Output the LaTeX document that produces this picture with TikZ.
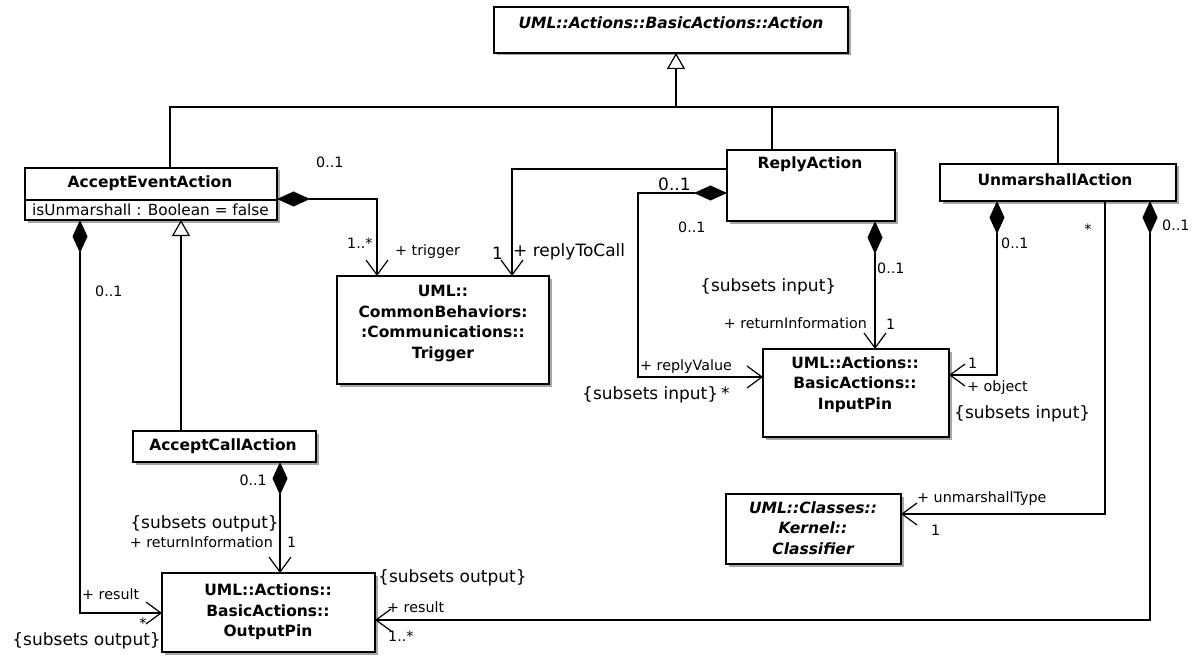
\documentclass[tikz,border=0pt]{standalone}
\usepackage{fontspec}
\setmainfont{DejaVu Sans}
\usetikzlibrary{arrows.meta,shadows}
\begin{document}
\begin{tikzpicture}[x=1pt,y=-1pt,
  box/.style={draw, line width=1.2pt, fill=white, inner sep=0pt, outer sep=0pt, anchor=north west,
    drop shadow={shadow xshift=2.5pt, shadow yshift=-2.5pt, fill=black!35, opacity=1}},
  cname/.style={font=\fontsize{15.5}{20.5}\selectfont\bfseries, align=center, inner sep=0pt},
  iname/.style={font=\fontsize{15.5}{20.5}\selectfont\bfseries\itshape, align=center, inner sep=0pt},
  attr/.style={font=\fontsize{15.3}{18}\selectfont, inner sep=0pt, anchor=west},
  sm/.style={font=\fontsize{14.3}{16}\selectfont, inner sep=0pt},
  bg/.style={font=\fontsize{17}{19}\selectfont, inner sep=0pt},
  conn/.style={line width=1.2pt},
  gen/.style={conn, -{Triangle[open, length=16pt, width=18pt, fill=white]}},
  nav/.style={conn, -{Straight Barb[length=15pt, width=22pt]}},
  compnav/.style={conn, {Diamond[length=33pt, width=15pt]}-{Straight Barb[length=15pt, width=22pt]}},
]
\useasboundingbox (0,0) rectangle (1193,663);

% ---------- class boxes ----------
\node[box, minimum width=354pt, minimum height=46pt] (action) at (494,7) {};
\node[box, minimum width=252pt, minimum height=52pt] (aea) at (25,168) {};
\node[box, minimum width=183pt, minimum height=31pt] (acc) at (133,431) {};
\node[box, minimum width=212pt, minimum height=108pt] (trigger) at (337,276) {};
\node[box, minimum width=168pt, minimum height=71pt] (reply) at (727,150) {};
\node[box, minimum width=236pt, minimum height=37pt] (unm) at (940,164) {};
\node[box, minimum width=186pt, minimum height=88pt] (inpin) at (763,349) {};
\node[box, minimum width=213pt, minimum height=79pt] (outpin) at (162,573) {};
\node[box, minimum width=175pt, minimum height=70pt] (cls) at (726,494) {};

\coordinate (dv) at (0,200);
\draw[line width=1.2pt] (dv -| aea.west) -- (dv -| aea.east);

% ---------- class texts ----------
\node[iname] (actionT) at (671,23) {UML::Actions::BasicActions::Action};
\node[cname] (aeaT) at (150,183) {AcceptEventAction};
\node[attr] (aeaA) at (32,210) {isUnmarshall : Boolean = false};
\node[cname] (accT) at (223,446) {AcceptCallAction};
\node[cname] (trigT) at (443,323.5) {UML::\\CommonBehaviors:\\:Communications::\\Trigger};
\node[cname] (replyT) at (810,164) {ReplyAction};
\node[cname] (unmT) at (1055,180) {UnmarshallAction};
\node[cname] (inT) at (855,384.5) {UML::Actions::\\BasicActions::\\InputPin};
\node[cname] (outT) at (268,612) {UML::Actions::\\BasicActions::\\OutputPin};
\node[iname] (clsT) at (813,528) {UML::Classes::\\Kernel::\\Classifier};

% ---------- generalizations ----------
\coordinate (bL) at (170,107);
\coordinate (bR) at (1058,107);
\coordinate (bC) at (772,107);
\coordinate (bT) at (676,107);
\draw[conn] (bL |- aea.north) -- (bL) -- (bR) -- (bR |- unm.north);
\draw[conn] (bC) -- (bC |- reply.north);
\draw[gen] (bT) -- (bT |- action.south);
\coordinate (gA) at (181,0);
\draw[gen] (gA |- acc.north) -- (gA |- aea.south);

% ---------- associations ----------
\coordinate (t1) at (377,199);
\draw[compnav] (t1 -| aea.east) -- (t1) -- (t1 |- trigger.north);
\coordinate (r1) at (512,169);
\draw[nav] (r1 -| reply.west) -- (r1) -- (r1 |- trigger.north);
\coordinate (v1) at (638,193);
\coordinate (v2) at (638,377);
\draw[compnav] (v1 -| reply.west) -- (v1) -- (v2) -- (v2 -| inpin.west);
\coordinate (ri) at (875,0);
\draw[compnav] (ri |- reply.south) -- (ri |- inpin.north);
\coordinate (o1) at (997,375);
\draw[compnav] (o1 |- unm.south) -- (o1) -- (o1 -| inpin.east);
\coordinate (u1) at (1105,514);
\draw[nav] (u1 |- unm.south) -- (u1) -- (u1 -| cls.east);
\coordinate (u2) at (1150,620);
\draw[compnav] (u2 |- unm.south) -- (u2) -- (u2 -| outpin.east);
\coordinate (a1) at (280,0);
\draw[compnav] (a1 |- acc.south) -- (a1 |- outpin.north);
\coordinate (e1) at (80,613);
\draw[compnav] (e1 |- aea.south) -- (e1) -- (e1 -| outpin.west);

% ---------- labels ----------
\node[sm, anchor=west] (l1) at (316,162) {0..1};
\node[sm, anchor=west] (l2) at (347,243) {1..*};
\node[sm, anchor=west] (l3) at (395,252) {+ trigger};
\node[bg, anchor=west] (l4) at (492,253) {1};
\node[bg, anchor=west] (l5) at (513,252) {+ replyToCall};
\node[bg, anchor=west] (l6) at (658,184) {0..1};
\node[sm, anchor=west] (l7) at (678,227) {0..1};
\node[sm, anchor=west] (l8) at (877,268) {0..1};
\node[bg, anchor=west] (l9) at (700,287) {\{subsets input\}};
\node[sm, anchor=east] (l10) at (867,323) {+ returnInformation};
\node[sm, anchor=west] (l11) at (886,324) {1};
\node[sm, anchor=west] (l12) at (640,367) {+ replyValue};
\node[bg, anchor=west] (l13) at (582,395) {\{subsets input\}\,*};
\node[sm, anchor=west] (l14) at (968,363) {1};
\node[sm, anchor=west] (l15) at (967,388) {+ object};
\node[bg, anchor=west] (l16) at (954,414) {\{subsets input\}};
\node[sm, anchor=west] (l17) at (1001,243) {0..1};
\node[sm] (l18) at (1088,229) {*};
\node[sm, anchor=west] (l19) at (1162,225) {0..1};
\node[sm, anchor=west] (l20) at (917,499) {+ unmarshallType};
\node[sm, anchor=west] (l21) at (931,530) {1};
\node[sm, anchor=west] (l22) at (95,291) {0..1};
\node[sm, anchor=east] (l23) at (267,480) {0..1};
\node[bg, anchor=east] (l24) at (279,524) {\{subsets output\}};
\node[sm, anchor=east] (l25) at (273,542) {+ returnInformation};
\node[sm, anchor=west] (l26) at (287,542) {1};
\node[sm, anchor=west] (l27) at (82,594) {+ result};
\node[sm] (l28) at (143,623) {*};
\node[bg, anchor=east] (l29) at (161,641) {\{subsets output\}};
\node[bg, anchor=west] (l30) at (378,578) {\{subsets output\}};
\node[sm, anchor=west] (l31) at (387,607) {+ result};
\node[sm, anchor=west] (l32) at (388,636) {1..*};
\end{tikzpicture}
\end{document}
